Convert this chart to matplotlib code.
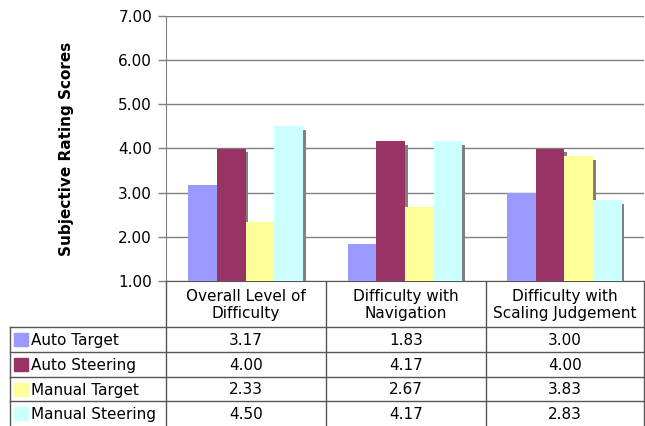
import matplotlib
matplotlib.use("Agg")
import matplotlib.pyplot as plt
import matplotlib.patheffects as pe
import numpy as np

# data
categories = ["Overall Level of\nDifficulty", "Difficulty with\nNavigation", "Difficulty with\nScaling Judgement"]
series_names = ["Auto Target", "Auto Steering", "Manual Target", "Manual Steering"]
auto_target = [3.17, 1.83, 3.00]
auto_steering = [4.00, 4.17, 4.00]
manual_target = [2.33, 2.67, 3.83]
manual_steering = [4.50, 4.17, 2.83]
series_values = [auto_target, auto_steering, manual_target, manual_steering]
colors = ["#9999FF", "#993366", "#FFFF99", "#CCFFFF"]
yticks = [1, 2, 3, 4, 5, 6, 7]

W, H = 645, 426
fig = plt.figure(figsize=(W / 100, H / 100), dpi=100)
plt.rcParams['font.family'] = ['DejaVu Sans']

# table axes in pixel coords (whole figure)
tab = fig.add_axes([0, 0, 1, 1], zorder=0)
tab.set_xlim(0, W)
tab.set_ylim(H, 0)
tab.axis("off")

# chart axes
x_left, x_right = 166, 644
y_top, y_bot = 16, 281
ax = fig.add_axes([x_left / W, 1 - y_bot / H, (x_right - x_left) / W, (y_bot - y_top) / H], zorder=1)

x = np.arange(len(categories))
bw = 0.18
shadow = [pe.SimplePatchShadow(offset=(2.0, -2.8), shadow_rgbFace="#808080", alpha=1.0), pe.Normal()]
for i, (vals, c) in enumerate(zip(series_values, colors)):
    bars = ax.bar(x + (i - 1.5) * bw, np.array(vals) - 1, bw, bottom=1, color=c,
                  edgecolor="none", zorder=3)
    for b in bars:
        b.set_path_effects(shadow)

ax.set_xlim(-0.5, len(categories) - 0.5)
ax.set_ylim(1, 7)
ax.set_yticks(yticks)
ax.set_yticklabels(["%.2f" % v for v in yticks], fontsize=11)
ax.set_xticks([])
ax.yaxis.grid(True, color="#808080", linewidth=1.0)
ax.set_axisbelow(True)
ax.tick_params(axis="y", length=6, width=1, color="#808080", pad=4)
for s in ["top", "right"]:
    ax.spines[s].set_visible(False)
ax.spines["left"].set_color("#808080")
ax.spines["bottom"].set_color("#555555")
ax.set_ylabel("Subjective Rating Scores", fontsize=11, fontweight="bold", labelpad=32)

# table
col_edges = [166, 326, 486, 644]
row_edges = [327, 352, 377, 401, 426]
lc = "#555555"
for xe in col_edges:
    tab.plot([xe, xe], [y_bot, H], color=lc, lw=1)
tab.plot([10, 10], [row_edges[0], H], color=lc, lw=1)
for ye in row_edges[:-1]:
    tab.plot([10, col_edges[-1]], [ye, ye], color=lc, lw=1)

for j, cat in enumerate(categories):
    cx = (col_edges[j] + col_edges[j + 1]) / 2
    tab.text(cx, (y_bot + row_edges[0]) / 2 + 1, cat, ha="center", va="center",
             fontsize=11, linespacing=1.15)

for i, (name, vals, c) in enumerate(zip(series_names, series_values, colors)):
    cy = (row_edges[i] + row_edges[i + 1]) / 2
    tab.add_patch(plt.Rectangle((14, cy - 6.5), 14, 13, color=c))
    tab.text(31, cy + 1, name, ha="left", va="center", fontsize=11)
    for j, v in enumerate(vals):
        cx = (col_edges[j] + col_edges[j + 1]) / 2
        tab.text(cx, cy + 1, "%.2f" % v, ha="center", va="center", fontsize=11)

fig.savefig("out.png", dpi=100)
